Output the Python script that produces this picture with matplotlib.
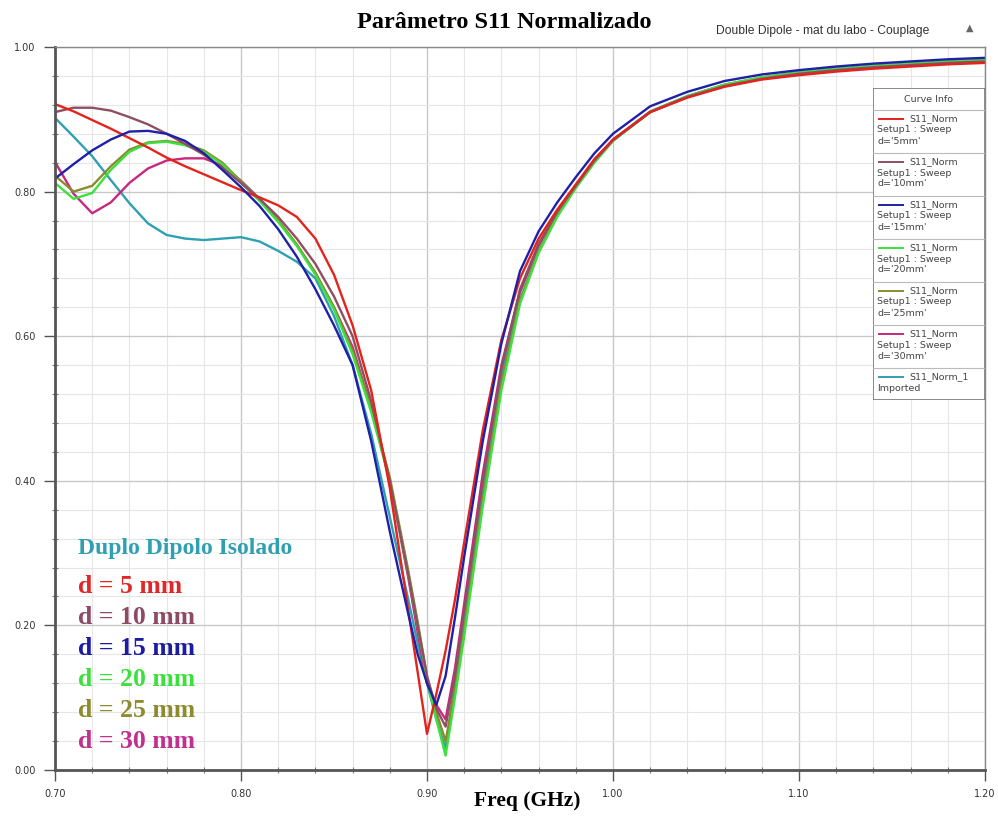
#Parametro S11 normalizado - double dipole coupling
import numpy as np
import matplotlib.pyplot as plt
from matplotlib.ticker import MultipleLocator, FormatStrFormatter

#DATA
freq = [0.70, 0.71, 0.72, 0.73, 0.74, 0.75, 0.76, 0.77, 0.78, 0.79, 0.80,
        0.81, 0.82, 0.83, 0.84, 0.85, 0.86, 0.87, 0.88, 0.89, 0.895, 0.90,
        0.905, 0.91, 0.915, 0.92, 0.93, 0.94, 0.95, 0.96, 0.97, 0.98, 0.99,
        1.00, 1.02, 1.04, 1.06, 1.08, 1.10, 1.12, 1.14, 1.16, 1.18, 1.20]

s11_d5 = [0.921, 0.911, 0.899, 0.887, 0.874, 0.861, 0.847, 0.835, 0.824, 0.813, 0.802,
          0.792, 0.781, 0.765, 0.735, 0.685, 0.615, 0.525, 0.390, 0.220, 0.135, 0.050,
          0.105, 0.165, 0.235, 0.315, 0.470, 0.595, 0.680, 0.735, 0.775, 0.810, 0.845,
          0.872, 0.910, 0.930, 0.945, 0.955, 0.961, 0.966, 0.970, 0.973, 0.976, 0.978]
s11_d10 = [0.910, 0.916, 0.916, 0.912, 0.903, 0.893, 0.880, 0.866, 0.851, 0.833, 0.812,
           0.790, 0.765, 0.735, 0.700, 0.655, 0.600, 0.510, 0.400, 0.270, 0.200, 0.130,
           0.085, 0.060, 0.130, 0.220, 0.400, 0.555, 0.665, 0.728, 0.772, 0.808, 0.843,
           0.871, 0.910, 0.931, 0.946, 0.956, 0.963, 0.968, 0.972, 0.975, 0.978, 0.980]
s11_d15 = [0.818, 0.838, 0.857, 0.872, 0.883, 0.884, 0.880, 0.870, 0.853, 0.830, 0.806,
           0.780, 0.748, 0.710, 0.665, 0.615, 0.560, 0.455, 0.330, 0.215, 0.160, 0.120,
           0.090, 0.130, 0.210, 0.295, 0.455, 0.590, 0.690, 0.745, 0.785, 0.820, 0.853,
           0.880, 0.918, 0.938, 0.953, 0.962, 0.968, 0.973, 0.977, 0.980, 0.983, 0.985]
s11_d20 = [0.812, 0.790, 0.798, 0.830, 0.855, 0.867, 0.869, 0.864, 0.855, 0.838, 0.812,
           0.787, 0.758, 0.725, 0.685, 0.637, 0.575, 0.495, 0.400, 0.270, 0.200, 0.125,
           0.070, 0.020, 0.100, 0.185, 0.365, 0.525, 0.645, 0.715, 0.765, 0.805, 0.840,
           0.870, 0.910, 0.932, 0.948, 0.958, 0.965, 0.970, 0.974, 0.977, 0.980, 0.982]
s11_d25 = [0.822, 0.800, 0.808, 0.835, 0.858, 0.868, 0.870, 0.866, 0.857, 0.840, 0.814,
           0.789, 0.760, 0.727, 0.688, 0.640, 0.580, 0.500, 0.405, 0.275, 0.205, 0.130,
           0.080, 0.040, 0.110, 0.195, 0.375, 0.535, 0.650, 0.718, 0.767, 0.806, 0.841,
           0.871, 0.910, 0.932, 0.948, 0.958, 0.965, 0.970, 0.974, 0.977, 0.980, 0.982]
s11_d30 = [0.841, 0.797, 0.770, 0.785, 0.812, 0.832, 0.843, 0.846, 0.846, 0.836, 0.815,
           0.790, 0.760, 0.726, 0.687, 0.640, 0.585, 0.500, 0.400, 0.265, 0.190, 0.120,
           0.090, 0.070, 0.140, 0.230, 0.410, 0.560, 0.662, 0.726, 0.771, 0.807, 0.842,
           0.871, 0.910, 0.931, 0.946, 0.956, 0.963, 0.968, 0.972, 0.975, 0.978, 0.980]
s11_iso = [0.902, 0.876, 0.849, 0.816, 0.784, 0.756, 0.740, 0.735, 0.733, 0.735, 0.737,
           0.731, 0.718, 0.703, 0.680, 0.628, 0.560, 0.465, 0.350, 0.235, 0.175, 0.120,
           0.070, 0.030, 0.120, 0.210, 0.390, 0.545, 0.660, 0.725, 0.770, 0.807, 0.842,
           0.872, 0.911, 0.932, 0.947, 0.957, 0.964, 0.969, 0.973, 0.976, 0.979, 0.981]

series = [s11_d5, s11_d10, s11_d15, s11_d20, s11_d25, s11_d30, s11_iso]
colors = ['#e3231c', '#8e4f63', '#2020a6', '#3ee03e', '#8a8a30', '#c8287e', '#2fa0b2']
legend_sweep = ["d='5mm'", "d='10mm'", "d='15mm'", "d='20mm'", "d='25mm'", "d='30mm'"]
note_labels = ['d = 5 mm', 'd = 10 mm', 'd = 15 mm', 'd = 20 mm', 'd = 25 mm', 'd = 30 mm']
note_colors = ['#e02828', '#8c4b63', '#1c1ca0', '#3ce03c', '#8e8a2e', '#c0308f']

#FIGURE
fig = plt.figure(figsize=(9.98, 8.17), dpi=100)
ax = fig.add_axes([55/998, 47/817, 930/998, 723/817])

# plot order: isolated first so the sweeps sit on top of it
ax.plot(freq, s11_iso, color=colors[6], lw=1.7)
for i in [5, 4, 3, 1, 0, 2]:
    ax.plot(freq, series[i], color=colors[i], lw=1.7)

ax.set_xlim(0.70, 1.20)
ax.set_ylim(0.0, 1.0)
ax.xaxis.set_major_locator(MultipleLocator(0.10))
ax.xaxis.set_minor_locator(MultipleLocator(0.02))
ax.yaxis.set_major_locator(MultipleLocator(0.20))
ax.yaxis.set_minor_locator(MultipleLocator(0.04))
ax.xaxis.set_major_formatter(FormatStrFormatter('%.2f'))
ax.yaxis.set_major_formatter(FormatStrFormatter('%.2f'))
ax.grid(which='major', color='#c8c8c8', lw=1.0)
ax.grid(which='minor', color='#e6e6e6', lw=0.8)
ax.set_axisbelow(True)
ax.tick_params(which='major', direction='out', length=8, width=1, color='#555555',
               labelsize=7, labelcolor='#333333', pad=6)
ax.tick_params(which='minor', direction='inout', length=5, width=0.8, color='#777777')
for sp in ['left', 'bottom']:
    ax.spines[sp].set_linewidth(2.0)
    ax.spines[sp].set_color('#555555')
for sp in ['top', 'right']:
    ax.spines[sp].set_linewidth(1.0)
    ax.spines[sp].set_color('#888888')

fig.text(527/998, 1 - 801/817, 'Freq (GHz)', ha='center', va='center',
         fontsize=15.5, fontweight='bold', family='Liberation Serif')
fig.text(504/998, 1 - 23/817, 'Parâmetro S11 Normalizado', ha='center', va='center',
         fontsize=17.5, fontweight='bold', family='Liberation Serif')
fig.text(823/998, 1 - 31/817, 'Double Dipole - mat du labo - Couplage', ha='center',
         va='center', fontsize=8.7, color='#333333', family='Liberation Sans')
fig.text(970/998, 1 - 28/817, '▲', ha='center', va='center', fontsize=7, color='#666666')

# annotations in the lower left
ax.text(0.7125, 0.307, 'Duplo Dipolo Isolado', color=colors[6], fontsize=17,
        fontweight='bold', family='Liberation Serif', va='center')
for i in range(len(note_labels)):
    ax.text(0.7125, 0.254 - i*0.0428, note_labels[i], color=note_colors[i], fontsize=18.5,
            fontweight='bold', family='Liberation Serif', va='center')

# curve info box
lax = fig.add_axes([873/998, 1 - 400/817, 112/998, 312/817])
lax.set_xlim(0, 112)
lax.set_ylim(312, 0)
lax.axis('off')
lax.add_patch(plt.Rectangle((0, 0), 112, 312, fc='white', ec='#777777', lw=1.2))
lax.text(56, 12, 'Curve Info', ha='center', va='center', fontsize=6.8, color='#444444')
lax.plot([0, 112], [22, 22], color='#bbbbbb', lw=0.8)
for i in range(7):
    y0 = 22 + i*43
    lax.plot([6, 30], [y0 + 9, y0 + 9], color=colors[i], lw=1.4)
    if i < 6:
        lax.text(36, y0 + 9, 'S11_Norm', fontsize=6.8, va='center', color='#444444')
        lax.text(4, y0 + 20, 'Setup1 : Sweep', fontsize=6.8, va='center', color='#444444')
        lax.text(4, y0 + 31, legend_sweep[i], fontsize=6.8, va='center', color='#444444')
        lax.plot([0, 112], [y0 + 43, y0 + 43], color='#bbbbbb', lw=0.8)
    else:
        lax.text(36, y0 + 9, 'S11_Norm_1', fontsize=6.8, va='center', color='#444444')
        lax.text(4, y0 + 20, 'Imported', fontsize=6.8, va='center', color='#444444')

fig.savefig('out.png', dpi=100)
